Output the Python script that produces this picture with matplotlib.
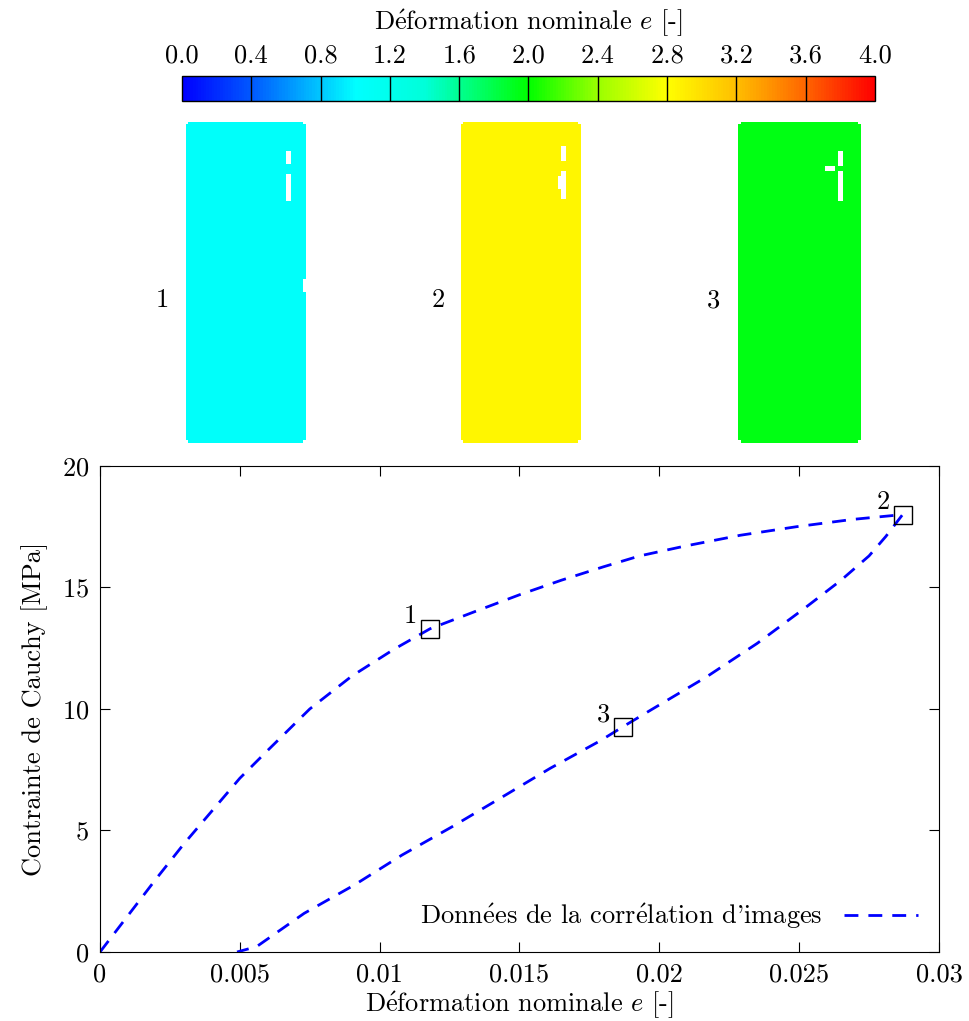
import matplotlib
matplotlib.use("Agg")
import matplotlib.pyplot as plt
import numpy as np
from matplotlib.colors import LinearSegmentedColormap, Normalize

plt.rcParams['font.family'] = ['cmr10', 'DejaVu Serif']
plt.rcParams['mathtext.fontset'] = 'cm'
plt.rcParams['axes.formatter.use_mathtext'] = True

# data ------------------------------>
load_strain = [0, 0.001, 0.002, 0.003, 0.004, 0.005, 0.006, 0.0075, 0.009, 0.0105,
               0.0118, 0.0135, 0.015, 0.0165, 0.018, 0.0193, 0.0209, 0.0229, 0.0249,
               0.0269, 0.0287]
load_stress = [0, 1.5, 3.0, 4.45, 5.8, 7.15, 8.3, 10.0, 11.35, 12.45,
               13.3, 14.05, 14.7, 15.3, 15.85, 16.3, 16.7, 17.15, 17.5,
               17.8, 18.0]

unload_strain = [0.0287, 0.0281, 0.0275, 0.0265, 0.0252, 0.0235, 0.0217, 0.0197,
                 0.0187, 0.0179, 0.0161, 0.0143, 0.0126, 0.0108, 0.0091, 0.0073,
                 0.0056, 0.0049]
unload_stress = [18.0, 17.1, 16.3, 15.3, 14.15, 12.7, 11.33, 9.96,
                 9.27, 8.7, 7.56, 6.32, 5.16, 3.99, 2.76, 1.59,
                 0.22, 0.0]

point_labels = ['1', '2', '3']
point_strain = [0.0118, 0.0287, 0.0187]
point_stress = [13.3, 18.0, 9.27]

# mean field value of each specimen picture (strain scale 0-4)
field_values = [1.05, 2.85, 1.95]

cb_ticks = [0.0, 0.4, 0.8, 1.2, 1.6, 2.0, 2.4, 2.8, 3.2, 3.6, 4.0]
x_ticks = [0, 0.005, 0.01, 0.015, 0.02, 0.025, 0.03]
x_ticklabels = ['0', '0.005', '0.01', '0.015', '0.02', '0.025', '0.03']
y_ticks = [0, 5, 10, 15, 20]

E = r'$\mathrm{\acute{e}}$'
fs = 19

cmap = LinearSegmentedColormap.from_list('dic', [
    (0.0, (0, 0, 1)), (0.1, (0, 0.35, 1)), (0.25, (0, 1, 1)), (0.35, (0, 1, 0.85)),
    (0.5, (0, 1, 0)), (0.6, (0.6, 1, 0)), (0.7, (1, 1, 0)), (0.8, (1, 0.75, 0)),
    (0.9, (1, 0.4, 0)), (1.0, (1, 0, 0))])
norm = Normalize(0, 4)

fig = plt.figure(figsize=(9.7, 10.21), dpi=100)

# specimens ------------------------------>
def specimen(val, holes):
    a = np.full((128, 48), val)
    for r0, r1, c0, c1 in holes:
        a[r0:r1, c0:c1] = np.nan
    # rounded corners
    a[0, 0] = a[0, -1] = a[-1, 0] = a[-1, -1] = np.nan
    return a

holes = [
    [(12, 17, 40, 42), (21, 32, 40, 42), (63, 68, 47, 48)],
    [(10, 16, 40, 42), (20, 31, 40, 42), (22, 27, 39, 40)],
    [(12, 18, 39, 41), (20, 32, 39, 41), (18, 20, 34, 38)],
]
lefts = [0.1918, 0.4753, 0.7608]
widths = [0.1237, 0.1237, 0.1258]
label_x = [0.167, 0.4515, 0.736]
for i in range(3):
    sax = fig.add_axes([lefts[i], 0.5661, widths[i], 0.3144])
    im = sax.imshow(specimen(field_values[i], holes[i]), cmap=cmap, norm=norm,
                    aspect='auto', interpolation='nearest')
    sax.axis('off')
    fig.text(label_x[i], 0.706, point_labels[i], fontsize=fs, ha='center', va='center')

# colorbar ------------------------------>
cax = fig.add_axes([0.1876, 0.901, 0.7144, 0.0245])
cb = fig.colorbar(im, cax=cax, orientation='horizontal', ticks=cb_ticks)
cax.xaxis.set_ticks_position('top')
cax.xaxis.set_label_position('top')
cax.set_xticklabels(['%.1f' % t for t in cb_ticks])
cax.tick_params(length=0, labelsize=fs, pad=6)
cax.set_xlabel('D' + E + r'formation nominale $e$ [-]', fontsize=fs, labelpad=10)
for t in cb_ticks[1:-1]:
    cax.axvline(t, color='black', lw=1)
cb.outline.set_linewidth(1)

# main plot ------------------------------>
ax = fig.add_axes([0.1031, 0.0676, 0.8649, 0.476])
strain = load_strain + unload_strain[1:]
stress = load_stress + unload_stress[1:]
ax.plot(strain, stress, color='blue', lw=2, dashes=(5, 3.6),
        label='Donn' + E + 'es de la corr' + E + "lation d'images")
ax.plot(point_strain, point_stress, 's', ms=13, mfc='none', mec='black', mew=1)
for lab, xs, ys in zip(point_labels, point_strain, point_stress):
    ax.annotate(lab, (xs, ys), xytext=(-14, 9), textcoords='offset points',
                fontsize=fs, ha='center', va='center')

ax.set_xlim(0, 0.03)
ax.set_ylim(0, 20)
ax.set_xticks(x_ticks)
ax.set_xticklabels(x_ticklabels)
ax.set_yticks(y_ticks)
ax.tick_params(direction='in', top=True, right=True, length=7, labelsize=fs, pad=8)
ax.set_xlabel('D' + E + r'formation nominale $e$ [-]', fontsize=fs, labelpad=2)
ax.set_ylabel('Contrainte de Cauchy [MPa]', fontsize=fs, labelpad=10)
ax.legend(loc='lower right', frameon=False, markerfirst=False, fontsize=fs,
          handlelength=2.8, handletextpad=0.8, borderaxespad=0.4)

fig.savefig('out.png', dpi=100)
